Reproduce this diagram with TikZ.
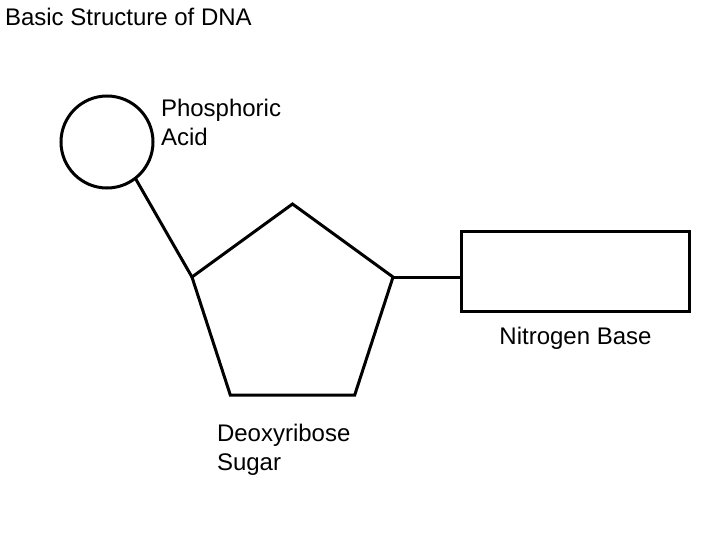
\documentclass[tikz,border=0pt]{standalone}
\usepackage{fontspec}
\setmainfont{Liberation Sans}
\usetikzlibrary{positioning, shapes.geometric}

\begin{document}
\begin{tikzpicture}[x=1bp, y=-1bp,
    part/.style={draw, line width=3bp, inner sep=0pt, outer sep=0pt},
    caption/.style={inner sep=0pt, outer sep=0pt, align=left, font=\fontsize{24bp}{29bp}\selectfont},
    bond/.style={line width=3bp}]

    \useasboundingbox (0,0) rectangle (720,540);

    % Title
    \node[caption, anchor=base west] (title) at (5,26) {Basic Structure of DNA};

    % Nodes
    \node[part, circle, minimum size=92bp] (acid) at (107,142) {};
    \node[part, regular polygon, regular polygon sides=5, minimum size=211.4bp] (sugar) at (292.5,309.7) {};
    \node[part, rectangle, minimum width=228bp, minimum height=80bp] (base) at (575.5,271.5) {};

    % Labels (base anchor sits on the last line)
    \node[caption, anchor=base west] (acidlabel) at (161,146) {Phosphoric\\Acid};
    \node[caption, anchor=base west] (sugarlabel) at (217,470) {Deoxyribose\\Sugar};
    \node[caption, below=16bp of base] (baselabel) {Nitrogen Base};

    % Bonds
    \draw[bond] (acid.-52) -- (sugar.corner 2);
    \draw[bond] (sugar.corner 5) -- (sugar.corner 5 -| base.west);

\end{tikzpicture}
\end{document}
